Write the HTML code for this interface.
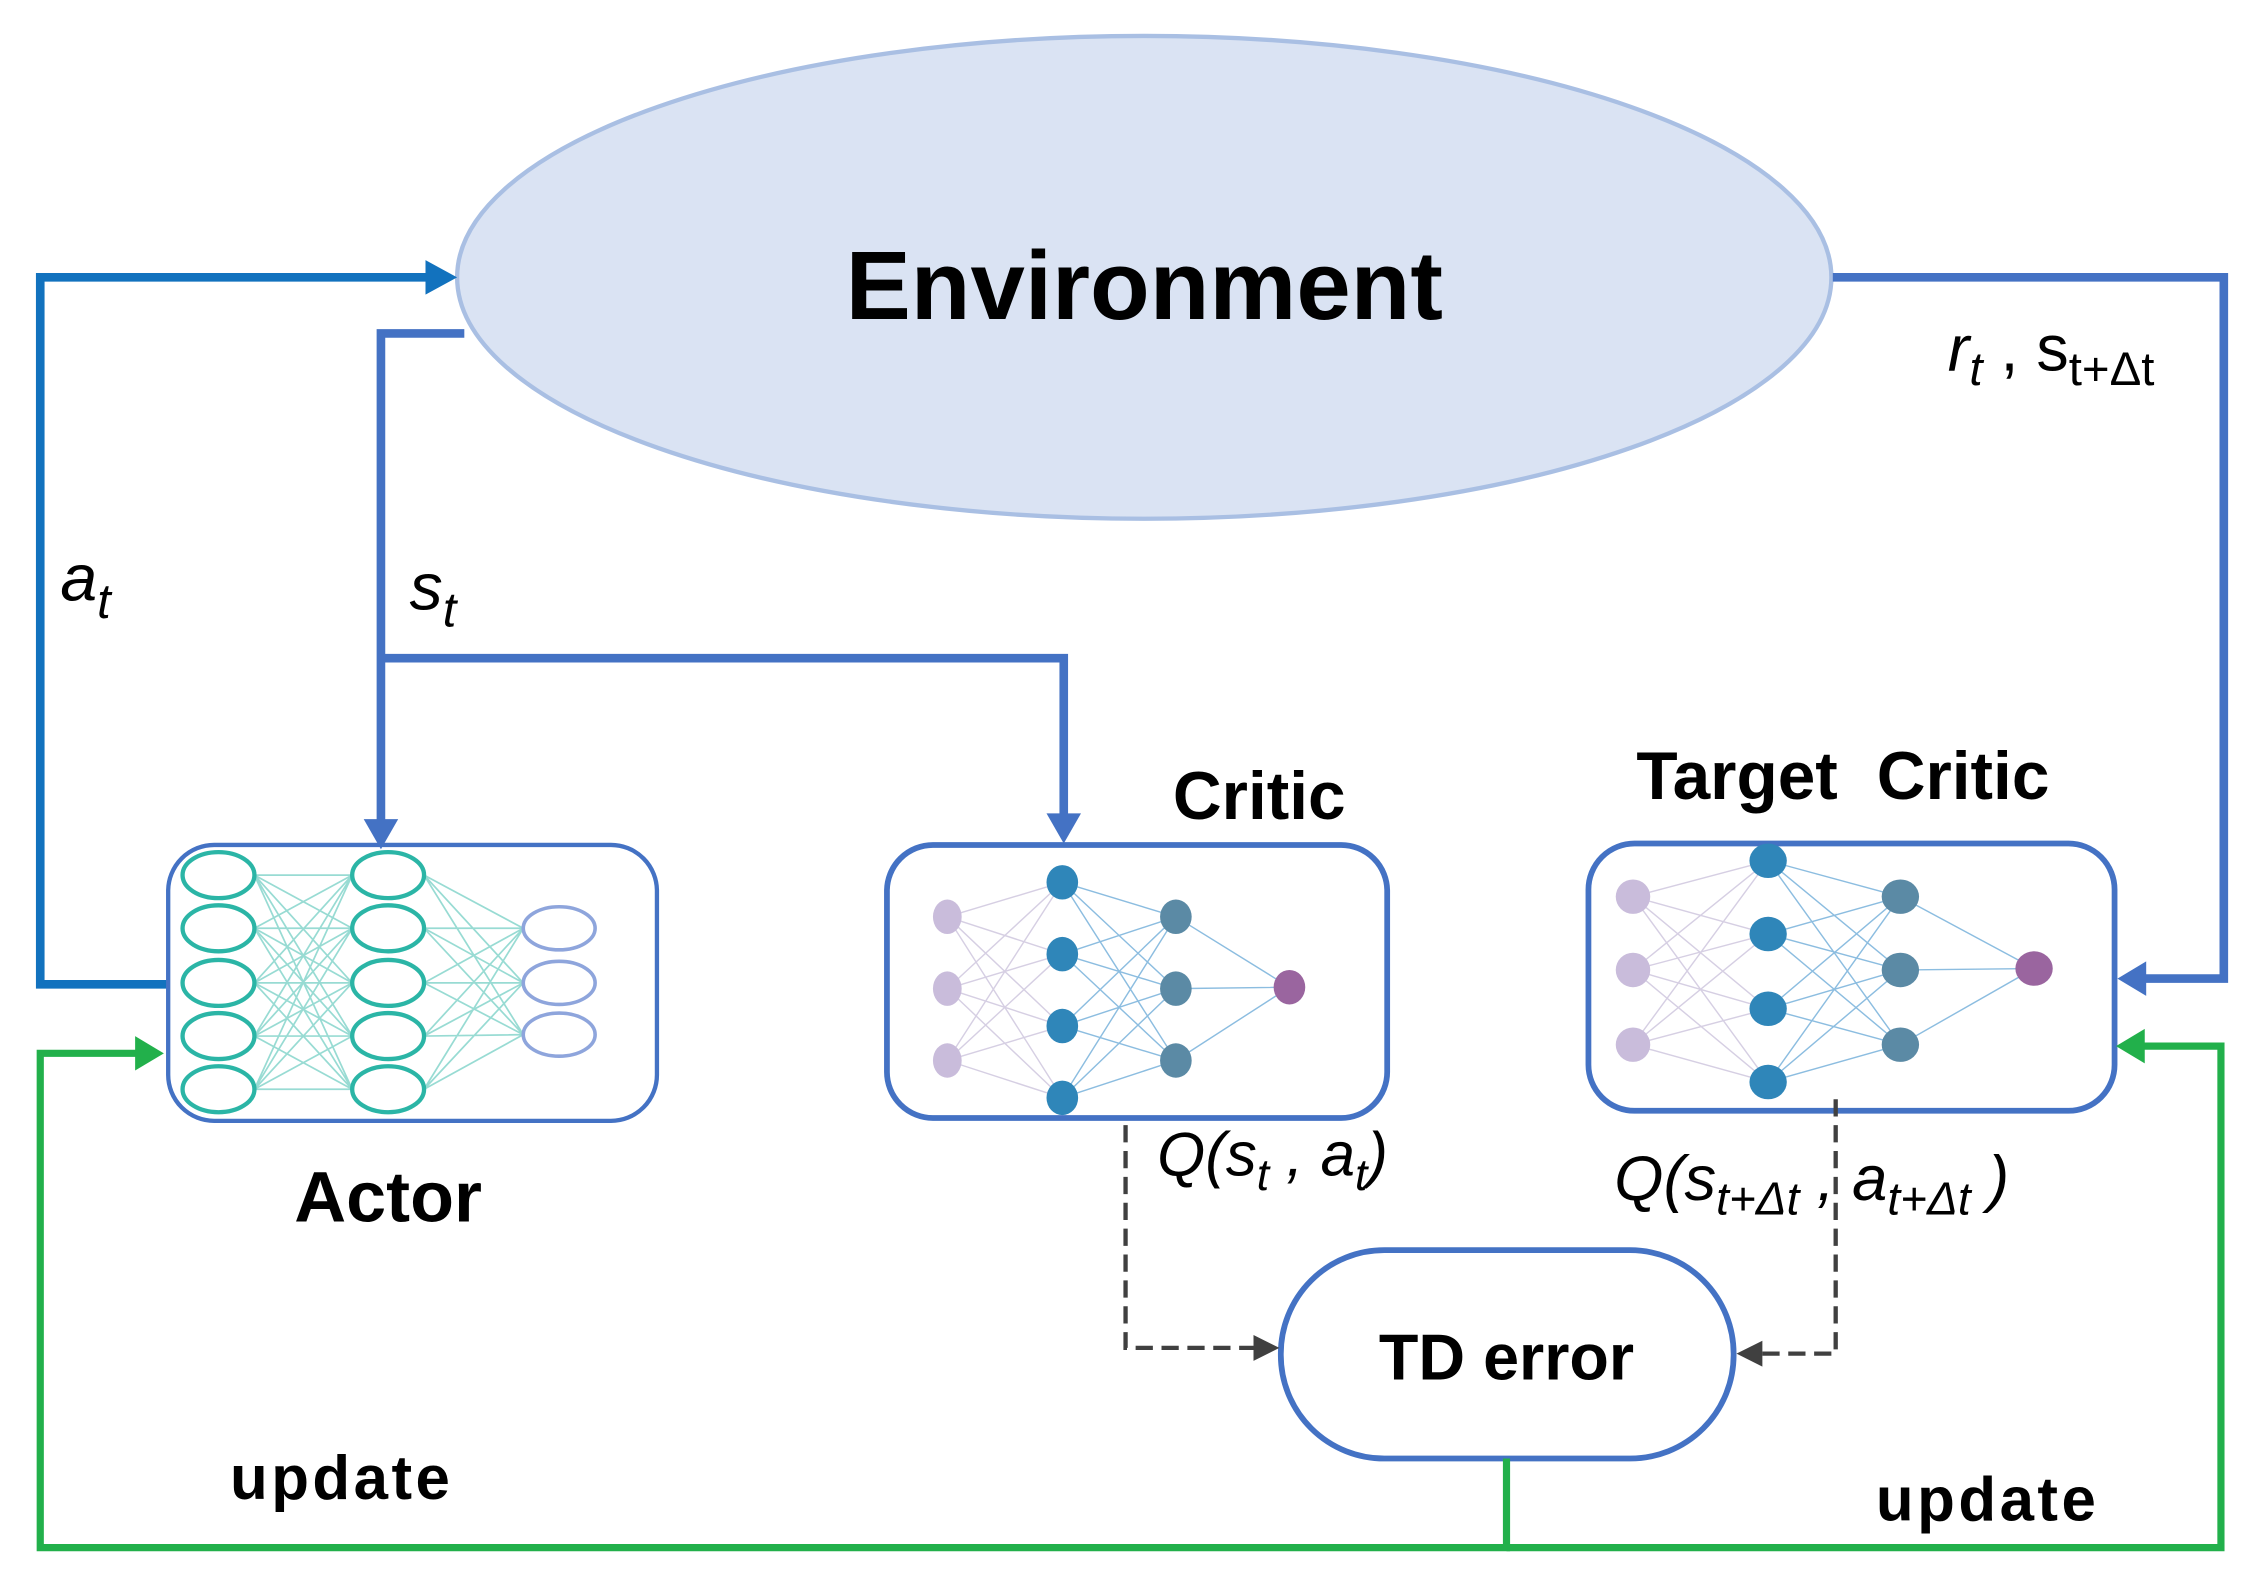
<!DOCTYPE html>
<html><head><meta charset="utf-8"><style>html,body{margin:0;padding:0;background:#fff}svg{display:block}text{font-family:"Liberation Sans",sans-serif}</style></head>
<body>
<svg width="2254" height="1585" viewBox="0 0 1568 1103" preserveAspectRatio="none" xmlns="http://www.w3.org/2000/svg">
<ellipse cx="796" cy="193" rx="478" ry="168" fill="#dae3f3" stroke="#a9bfe3" stroke-width="3"/>
<text x="796" y="222" font-size="68" font-weight="bold" text-anchor="middle" fill="#000">Environment</text>
<polyline points="117,685 28,685 28,193 300,193" fill="none" stroke="#1272be" stroke-width="6"/>
<polygon points="296,181 318,193 296,205" fill="#1272be"/>
<polyline points="323,232 265,232 265,572" fill="none" stroke="#4472c4" stroke-width="6"/>
<polygon points="253,570 265,591 277,570" fill="#4472c4"/>
<polyline points="265,458 740,458 740,568" fill="none" stroke="#4472c4" stroke-width="6"/>
<polygon points="728,566 740,587 752,566" fill="#4472c4"/>
<polyline points="1275,193 1547,193 1547,681 1490,681" fill="none" stroke="#4472c4" stroke-width="6"/>
<polygon points="1493,669 1473,681 1493,693" fill="#4472c4"/>
<text x="42" y="418" font-size="46" font-style="italic">a<tspan font-size="34" dy="12">t</tspan></text>
<text x="285" y="424" font-size="46" font-style="italic">s<tspan font-size="34" dy="12">t</tspan></text>
<text x="1355" y="258" font-size="45" font-style="italic">r<tspan font-size="33" dy="10">t</tspan><tspan dy="-10" font-style="normal"> , s</tspan><tspan font-size="33" dy="10" font-style="normal">t+Δt</tspan></text>
<rect x="117" y="588" width="340" height="192" rx="32" fill="none" stroke="#4472c4" stroke-width="3"/>
<rect x="617" y="588" width="348" height="190" rx="32" fill="none" stroke="#4472c4" stroke-width="4"/>
<rect x="1105" y="587" width="366" height="186" rx="32" fill="none" stroke="#4472c4" stroke-width="4"/>
<text x="876" y="570" font-size="47" font-weight="bold" text-anchor="middle">Critic</text>
<text x="1282" y="556" font-size="47" font-weight="bold" text-anchor="middle" word-spacing="14">Target Critic</text>
<text x="270" y="850" font-size="50" font-weight="bold" text-anchor="middle">Actor</text>
<g stroke="#7fd3c9" stroke-width="1.2" opacity="0.8">
<path d="M177 609L245 609M177 609L245 646M177 609L245 684M177 609L245 721M177 609L245 758M177 646L245 609M177 646L245 646M177 646L245 684M177 646L245 721M177 646L245 758M177 684L245 609M177 684L245 646M177 684L245 684M177 684L245 721M177 684L245 758M177 721L245 609M177 721L245 646M177 721L245 684M177 721L245 721M177 721L245 758M177 758L245 609M177 758L245 646M177 758L245 684M177 758L245 721M177 758L245 758"/>
<path d="M295 609L364 646M295 609L364 684M295 609L364 720M295 646L364 646M295 646L364 684M295 646L364 720M295 684L364 646M295 684L364 684M295 684L364 720M295 721L364 646M295 721L364 684M295 721L364 720M295 758L364 646M295 758L364 684M295 758L364 720"/>
</g>
<g fill="#fff" stroke="#2bb5a6" stroke-width="3">
<ellipse cx="152" cy="609" rx="25" ry="16"/><ellipse cx="152" cy="646" rx="25" ry="16"/><ellipse cx="152" cy="684" rx="25" ry="16"/><ellipse cx="152" cy="721" rx="25" ry="16"/><ellipse cx="152" cy="758" rx="25" ry="16"/>
<ellipse cx="270" cy="609" rx="25" ry="16"/><ellipse cx="270" cy="646" rx="25" ry="16"/><ellipse cx="270" cy="684" rx="25" ry="16"/><ellipse cx="270" cy="721" rx="25" ry="16"/><ellipse cx="270" cy="758" rx="25" ry="16"/>
</g>
<g fill="#fff" stroke="#8ea5dc" stroke-width="2.5">
<ellipse cx="389" cy="646" rx="25" ry="15"/><ellipse cx="389" cy="684" rx="25" ry="15"/><ellipse cx="389" cy="720" rx="25" ry="15"/>
</g>
<g stroke-width="1">
<path stroke="#d6cfe3" d="M659 638L739 614M659 638L739 664M659 638L739 714M659 638L739 764M659 688L739 614M659 688L739 664M659 688L739 714M659 688L739 764M659 738L739 614M659 738L739 664M659 738L739 714M659 738L739 764"/>
<path stroke="#8cbde0" d="M739 614L818 638M739 614L818 688M739 614L818 738M739 664L818 638M739 664L818 688M739 664L818 738M739 714L818 638M739 714L818 688M739 714L818 738M739 764L818 638M739 764L818 688M739 764L818 738M818 638L897 687M818 688L897 687M818 738L897 687"/>
<path stroke="#d6cfe3" d="M1136 624L1230 599M1136 624L1230 650M1136 624L1230 702M1136 624L1230 753M1136 675L1230 599M1136 675L1230 650M1136 675L1230 702M1136 675L1230 753M1136 727L1230 599M1136 727L1230 650M1136 727L1230 702M1136 727L1230 753"/>
<path stroke="#8cbde0" d="M1230 599L1322 624M1230 599L1322 675M1230 599L1322 727M1230 650L1322 624M1230 650L1322 675M1230 650L1322 727M1230 702L1322 624M1230 702L1322 675M1230 702L1322 727M1230 753L1322 624M1230 753L1322 675M1230 753L1322 727M1322 624L1415 674M1322 675L1415 674M1322 727L1415 674"/>
</g>
<g fill="#c9bcdb"><ellipse cx="659" cy="638" rx="10" ry="12"/><ellipse cx="659" cy="688" rx="10" ry="12"/><ellipse cx="659" cy="738" rx="10" ry="12"/>
<ellipse cx="1136" cy="624" rx="12" ry="12"/><ellipse cx="1136" cy="675" rx="12" ry="12"/><ellipse cx="1136" cy="727" rx="12" ry="12"/></g>
<g fill="#2f86b9"><ellipse cx="739" cy="614" rx="11" ry="12"/><ellipse cx="739" cy="664" rx="11" ry="12"/><ellipse cx="739" cy="714" rx="11" ry="12"/><ellipse cx="739" cy="764" rx="11" ry="12"/>
<ellipse cx="1230" cy="599" rx="13" ry="12"/><ellipse cx="1230" cy="650" rx="13" ry="12"/><ellipse cx="1230" cy="702" rx="13" ry="12"/><ellipse cx="1230" cy="753" rx="13" ry="12"/></g>
<g fill="#5b8aa5"><ellipse cx="818" cy="638" rx="11" ry="12"/><ellipse cx="818" cy="688" rx="11" ry="12"/><ellipse cx="818" cy="738" rx="11" ry="12"/>
<ellipse cx="1322" cy="624" rx="13" ry="12"/><ellipse cx="1322" cy="675" rx="13" ry="12"/><ellipse cx="1322" cy="727" rx="13" ry="12"/></g>
<g fill="#9a659f"><ellipse cx="897" cy="687" rx="11" ry="12"/><ellipse cx="1415" cy="674" rx="13" ry="12"/></g>
<rect x="891" y="870" width="315" height="145" rx="72" fill="#fff" stroke="#4472c4" stroke-width="4"/>
<text x="1048" y="960" font-size="45" font-weight="bold" text-anchor="middle">TD error</text>
<g fill="none" stroke="#404040" stroke-width="3" stroke-dasharray="12,6">
<polyline points="783,783 783,938 872,938"/>
<polyline points="1277,765 1277,942 1225,942"/>
</g>
<polygon points="872,929 890,938 872,947" fill="#404040"/>
<polygon points="1226,933 1208,942 1226,951" fill="#404040"/>
<text x="805" y="818" font-size="43" font-style="italic">Q(s<tspan font-size="31" dy="10">t</tspan><tspan dy="-10"> , a</tspan><tspan font-size="31" dy="10">t</tspan><tspan dy="-10">)</tspan></text>
<text x="1123" y="835" font-size="44" font-style="italic">Q(s<tspan font-size="32" dy="10">t+Δt</tspan><tspan dy="-10"> , a</tspan><tspan font-size="32" dy="10">t+Δt</tspan><tspan dy="-10"> )</tspan></text>
<g fill="none" stroke="#22b04b" stroke-width="5">
<polyline points="1048,1015 1048,1077 28,1077 28,733 96,733"/>
<polyline points="1048,1077 1545,1077 1545,728 1490,728"/>
</g>
<polygon points="94,721 114,733 94,745" fill="#22b04b"/>
<polygon points="1492,716 1472,728 1492,740" fill="#22b04b"/>
<text x="160" y="1043" font-size="43" font-weight="bold" textLength="153">update</text>
<text x="1305" y="1058" font-size="43" font-weight="bold" textLength="153">update</text>
</svg>
</body></html>
